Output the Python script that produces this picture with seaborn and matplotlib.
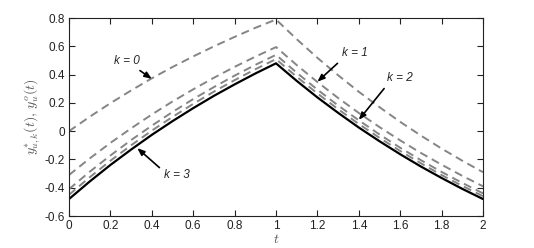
import numpy as np
import pandas as pd
import matplotlib
matplotlib.use("Agg")
import matplotlib.pyplot as plt
import seaborn as sns

# time grid
t = [0.0, 0.1, 0.2, 0.3, 0.4, 0.5, 0.6, 0.7, 0.8, 0.9, 1.0,
     1.1, 1.2, 1.3, 1.4, 1.5, 1.6, 1.7, 1.8, 1.9, 2.0]

# iterates k = 0..3 (dashed) and the optimum (solid)
y_k0 = [0.000, 0.102, 0.198, 0.288, 0.374, 0.454, 0.529, 0.600, 0.667, 0.731, 0.790,
        0.651, 0.519, 0.396, 0.279, 0.170, 0.066, -0.031, -0.123, -0.209, -0.290]
y_k1 = [-0.310, -0.193, -0.083, 0.020, 0.118, 0.210, 0.296, 0.378, 0.455, 0.527, 0.595,
        0.468, 0.348, 0.235, 0.129, 0.029, -0.065, -0.154, -0.237, -0.316, -0.390]
y_k2 = [-0.410, -0.287, -0.172, -0.063, 0.039, 0.136, 0.227, 0.312, 0.393, 0.469, 0.540,
        0.414, 0.294, 0.182, 0.077, -0.023, -0.117, -0.205, -0.288, -0.366, -0.440]
y_k3 = [-0.450, -0.326, -0.209, -0.100, 0.004, 0.101, 0.193, 0.280, 0.361, 0.438, 0.510,
        0.385, 0.267, 0.156, 0.051, -0.047, -0.140, -0.227, -0.310, -0.387, -0.460]
y_opt = [-0.480, -0.356, -0.239, -0.130, -0.026, 0.071, 0.163, 0.250, 0.331, 0.408, 0.480,
         0.356, 0.239, 0.130, 0.026, -0.071, -0.163, -0.250, -0.331, -0.408, -0.480]

xticks = [0, 0.2, 0.4, 0.6, 0.8, 1, 1.2, 1.4, 1.6, 1.8, 2]
xticklabels = ["0", "0.2", "0.4", "0.6", "0.8", "1", "1.2", "1.4", "1.6", "1.8", "2"]
yticks = [-0.6, -0.4, -0.2, 0, 0.2, 0.4, 0.6, 0.8]
yticklabels = ["-0.6", "-0.4", "-0.2", "0", "0.2", "0.4", "0.6", "0.8"]

# annotations: label, text position, arrow tip
ann_labels = ["k = 0", "k = 1", "k = 2", "k = 3"]
ann_text = [(0.28, 0.50), (1.38, 0.55), (1.60, 0.375), (0.52, -0.31)]
ann_tip = [(0.40, 0.37), (1.20, 0.35), (1.40, 0.08), (0.33, -0.12)]
ann_relpos = [(0.78, 0.0), (0.05, 0.1), (0.05, 0.1), (0.0, 0.8)]

sns.set_style("ticks")
plt.rcParams['font.family'] = ['Liberation Sans', 'DejaVu Sans']
plt.rcParams['mathtext.fontset'] = 'cm'

fig = plt.figure(figsize=(5.34, 2.48), dpi=100)
ax = fig.add_axes([0.1292, 0.129, 0.7753, 0.798])

for y in [y_k0, y_k1, y_k2, y_k3]:
    df = pd.DataFrame({"t": t, "y": y})
    sns.lineplot(data=df, x="t", y="y", ax=ax, color="#858585", lw=1.4,
                 dashes=False, linestyle=(0, (4.2, 2.6)))
df = pd.DataFrame({"t": t, "y": y_opt})
sns.lineplot(data=df, x="t", y="y", ax=ax, color="black", lw=1.6)

for lab, xy_text, xy_tip, rp in zip(ann_labels, ann_text, ann_tip, ann_relpos):
    ax.annotate(lab, xy=xy_tip, xytext=xy_text, fontsize=8.5, style="italic",
                ha="center", va="center",
                arrowprops=dict(arrowstyle="-|>,head_length=0.5,head_width=0.2",
                                color="black", lw=1.2, shrinkA=1, shrinkB=0,
                                relpos=rp))

ax.set_xlim(0, 2)
ax.set_ylim(-0.6, 0.8)
ax.set_xticks(xticks)
ax.set_xticklabels(xticklabels)
ax.set_yticks(yticks)
ax.set_yticklabels(yticklabels)
ax.tick_params(direction="in", top=True, right=True, length=4, width=0.8,
               labelsize=8.5, colors="#222222", pad=3)
for s in ax.spines.values():
    s.set_linewidth(0.8)
    s.set_color("#222222")

ax.set_xlabel("$t$", fontsize=10, color="#555555", labelpad=0)
ax.set_ylabel("$y^{*}_{u,k}(t),\\, y^{o}_{u}(t)$", fontsize=10, color="#555555", labelpad=2)

fig.savefig("out.png", dpi=100)
